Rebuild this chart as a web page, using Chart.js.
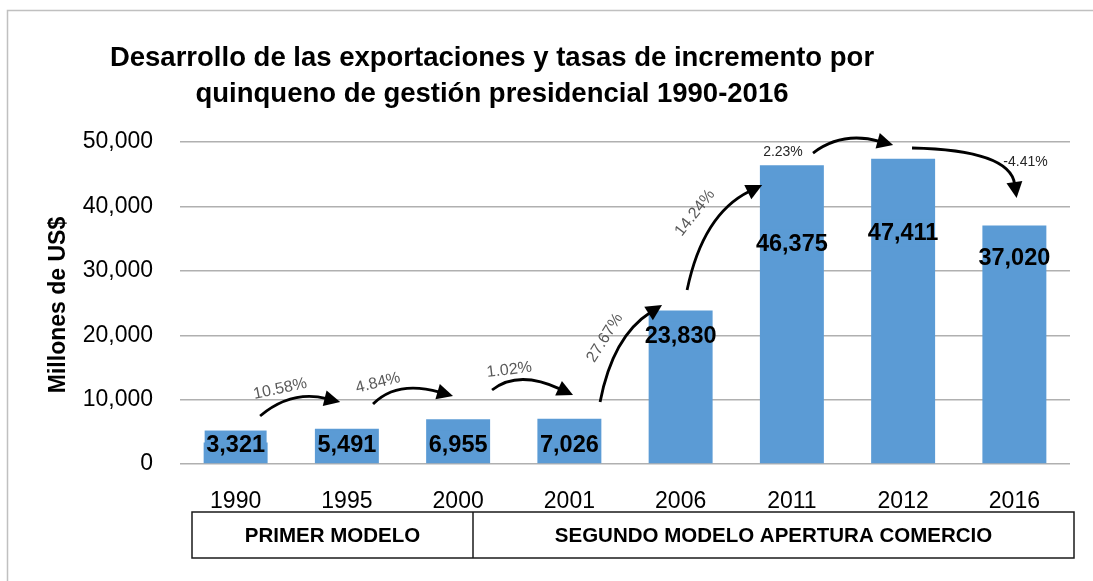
<!DOCTYPE html>
<html>
<head>
<meta charset="utf-8">
<script src="https://cdn.jsdelivr.net/npm/chart.js@4.4.1/dist/chart.umd.min.js"></script>
<style>
  body { margin: 0; background: #fff; }
</style>
</head>
<body>
<canvas id="myChart" width="1093" height="581"></canvas>
<script>
// data
const years = ['1990', '1995', '2000', '2001', '2006', '2011', '2012', '2016'];
const exportsMUS = [3321, 5491, 6955, 7026, 23830, 46375, 47411, 37020];
const growthRates = [10.58, 4.84, 1.02, 27.67, 14.24, 2.23, -4.41];
const yTickValues = [0, 10000, 20000, 30000, 40000, 50000];
const models = ['PRIMER MODELO', 'SEGUNDO MODELO APERTURA COMERCIO'];

const titleLines = ['Desarrollo de las exportaciones y tasas de incremento por',
                    'quinqueno de gestión presidencial 1990-2016'];
const yTitle = 'Millones de US$';

// where the annotations sit (category index, axis value)
const labelAnchor = [3100, 3100, 3100, 3100, 20000, 34300, 35900, 32100];
const arrowPaths = [
  [0.22, 7450, 0.50, 11500, 0.94, 9630],
  [1.235, 9320, 1.45, 13040, 1.954, 10560],
  [2.305, 11490, 2.54, 14680, 3.033, 10710],
  [3.276, 9630, 3.39, 19800, 3.833, 24690],
  [4.058, 27020, 4.20, 38800, 4.733, 43320],
  [5.19, 48290, 5.45, 51710, 5.91, 49530],
  [6.08, 49070, 6.96, 48760, 7.02, 41300]
];
const rateLabelPos = [
  [0.40, 11650, -12], [1.28, 12580, -14], [2.46, 14600, -7], [3.32, 19570, -58],
  [4.13, 39000, -52], [4.92, 48450, 0], [7.10, 46900, 0]
];

const barColor = '#5b9bd5';
const font = "'Liberation Sans', Arial, sans-serif";

function toPx(chart, i, v) {
  const xs = chart.scales.x;
  const step = xs.getPixelForValue(1) - xs.getPixelForValue(0);
  return [xs.getPixelForValue(0) + i * step, chart.scales.y.getPixelForValue(v)];
}

const decorPlugin = {
  id: 'decor',
  beforeDraw(chart) {
    const ctx = chart.ctx;
    ctx.save();
    ctx.fillStyle = '#fff';
    ctx.fillRect(0, 0, chart.width, chart.height);
    // outer frame
    ctx.strokeStyle = '#c0c0c0';
    ctx.lineWidth = 1.5;
    ctx.beginPath();
    ctx.moveTo(7.5, chart.height);
    ctx.lineTo(7.5, 10.5);
    ctx.lineTo(chart.width, 10.5);
    ctx.stroke();
    ctx.restore();
  },
  afterDatasetsDraw(chart) {
    const ctx = chart.ctx;
    const meta = chart.getDatasetMeta(0);
    ctx.save();
    // value labels
    ctx.font = 'bold 23.5px ' + font;
    ctx.textAlign = 'center';
    ctx.textBaseline = 'middle';
    meta.data.forEach((bar, i) => {
      const txt = exportsMUS[i].toLocaleString('en-US');
      const y = chart.scales.y.getPixelForValue(labelAnchor[i]);
      const w = Math.min(ctx.measureText(txt).width + 4, bar.width - 2);
      ctx.fillStyle = barColor;
      ctx.fillRect(bar.x - w / 2, y - 13.5, w, 27);
      ctx.fillStyle = '#000';
      ctx.fillText(txt, bar.x, y + 1);
    });

    // arrows
    ctx.strokeStyle = '#000';
    ctx.fillStyle = '#000';
    ctx.lineWidth = 2.8;
    arrowPaths.forEach(p => {
      const s = toPx(chart, p[0], p[1]);
      const c = toPx(chart, p[2], p[3]);
      const e = toPx(chart, p[4], p[5]);
      const a = Math.atan2(e[1] - c[1], e[0] - c[0]);
      const L = 16, W = 8;
      const bx = e[0] - L * Math.cos(a), by = e[1] - L * Math.sin(a);
      ctx.beginPath();
      ctx.moveTo(s[0], s[1]);
      ctx.quadraticCurveTo(c[0], c[1], bx + 2 * Math.cos(a), by + 2 * Math.sin(a));
      ctx.stroke();
      ctx.beginPath();
      ctx.moveTo(e[0], e[1]);
      ctx.lineTo(bx - W * Math.sin(a), by + W * Math.cos(a));
      ctx.lineTo(bx + W * Math.sin(a), by - W * Math.cos(a));
      ctx.closePath();
      ctx.fill();
    });

    // rate labels
    growthRates.forEach((r, i) => {
      const pos = rateLabelPos[i];
      const q = toPx(chart, pos[0], pos[1]);
      ctx.save();
      ctx.translate(q[0], q[1]);
      ctx.rotate(pos[2] * Math.PI / 180);
      ctx.font = (pos[2] === 0 ? '14px ' : '16px ') + font;
      ctx.fillStyle = pos[2] === 0 ? '#262626' : '#595959';
      ctx.fillText(r.toFixed(2) + '%', 0, 0);
      ctx.restore();
    });
    ctx.restore();
  },
  afterDraw(chart) {
    const ctx = chart.ctx;
    ctx.save();
    ctx.fillStyle = '#000';
    ctx.textAlign = 'center';
    ctx.textBaseline = 'middle';
    // title
    ctx.font = 'bold 27.5px ' + font;
    ctx.fillText(titleLines[0], 492, 58);
    ctx.fillText(titleLines[1], 492, 94);
    // y axis title
    ctx.save();
    ctx.translate(59, 305);
    ctx.rotate(-Math.PI / 2);
    ctx.font = 'bold 23px ' + font;
    ctx.fillText(yTitle, 0, 0);
    ctx.restore();
    // model table under the axis
    const left = 192, mid = 473, right = 1074, top = 512, bottom = 558;
    ctx.strokeStyle = '#1a1a1a';
    ctx.lineWidth = 1.5;
    ctx.strokeRect(left, top, right - left, bottom - top);
    ctx.beginPath();
    ctx.moveTo(mid, top);
    ctx.lineTo(mid, bottom);
    ctx.stroke();
    ctx.font = 'bold 20.5px ' + font;
    ctx.fillText(models[0], (left + mid) / 2, (top + bottom) / 2 + 1);
    ctx.fillText(models[1], (mid + right) / 2, (top + bottom) / 2 + 1);
    ctx.restore();
  }
};

const ctx = document.getElementById('myChart').getContext('2d');
const chart = new Chart(ctx, {
  type: 'bar',
  data: {
    labels: years,
    datasets: [{
      label: 'Exportaciones',
      data: exportsMUS,
      backgroundColor: barColor,
      categoryPercentage: 1,
      barPercentage: 0.575
    }]
  },
  options: {
    responsive: false,
    animation: false,
    devicePixelRatio: 1,
    layout: { padding: { top: 142, right: 23, bottom: 0, left: 0 } },
    plugins: {
      legend: { display: false },
      tooltip: { enabled: false }
    },
    scales: {
      x: {
        grid: { display: false, drawTicks: false },
        border: { display: false },
        ticks: { color: '#000', font: { family: font, size: 23 }, padding: 24 },
        afterFit: (s) => { s.height = 117; }
      },
      y: {
        min: 0,
        max: 50000,
        afterBuildTicks: (s) => { s.ticks = yTickValues.map(v => ({ value: v })); },
        grid: { color: '#b0b0b0', lineWidth: 1.4, drawTicks: false },
        border: { display: false },
        ticks: {
          color: '#000',
          padding: 27,
          font: { family: font, size: 23 },
          callback: (v) => v.toLocaleString('en-US')
        },
        afterFit: (s) => { s.width = 180; }
      }
    }
  },
  plugins: [decorPlugin]
});
</script>
</body>
</html>
